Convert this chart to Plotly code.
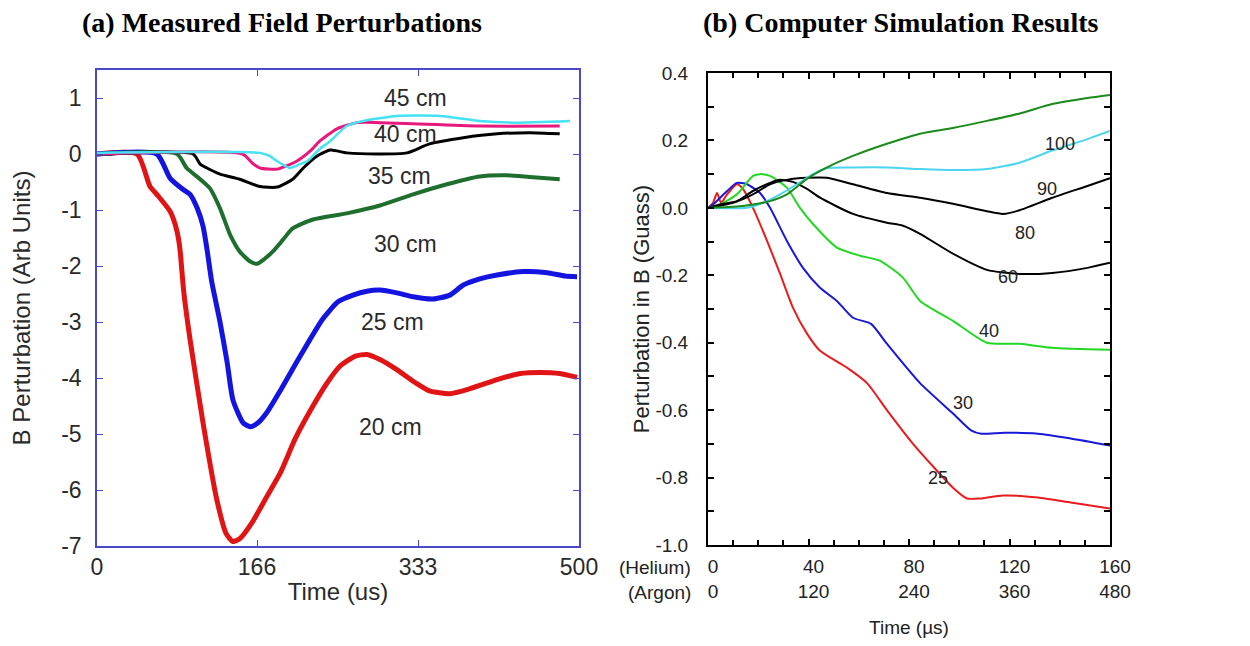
import plotly.graph_objects as go

# ---------------- Panel (a): measured field perturbations ----------------
a_labels = ["20 cm", "25 cm", "30 cm", "35 cm", "40 cm", "45 cm"]

t_20 = [0, 41.5, 55, 62, 76, 83, 86, 90, 96.5, 110, 124.5, 134, 141, 148, 162, 175, 190, 206, 224, 239,
        252, 268, 280, 293.5, 311, 330, 345, 366, 387, 415, 439, 459.5, 480, 498]
b_20 = [0, 0, -0.58, -0.72, -1.03, -1.38, -1.69, -2.46, -3.31, -4.8, -6.19, -6.78, -6.92, -6.87, -6.55,
        -6.15, -5.7, -5.07, -4.5, -4.08, -3.79, -3.61, -3.58, -3.67, -3.85, -4.08, -4.23, -4.28, -4.19,
        -4.03, -3.92, -3.9, -3.92, -3.99]

t_25 = [0, 62, 75.7, 89, 96.5, 104, 110, 114, 119, 127.6, 135, 141, 151.5, 159, 167, 176, 192, 207, 221,
        234, 250, 265.5, 280, 293.5, 311, 328, 348.5, 366, 380, 397, 415, 442, 467, 485.5, 498]
b_25 = [0, 0, -0.43, -0.63, -0.72, -0.97, -1.29, -1.69, -2.28, -3.0, -3.72, -4.39, -4.8, -4.87, -4.8,
        -4.62, -4.17, -3.72, -3.31, -2.95, -2.64, -2.52, -2.45, -2.43, -2.48, -2.55, -2.59, -2.52, -2.34,
        -2.23, -2.16, -2.1, -2.12, -2.18, -2.19]

t_30 = [0, 83, 93, 107, 117, 127.6, 138, 148, 159, 166, 174, 182.5, 193, 203, 224, 259, 293.5, 328, 363,
        397, 425, 449, 480]
b_30 = [0, 0, -0.25, -0.45, -0.61, -0.97, -1.44, -1.74, -1.92, -1.96, -1.87, -1.74, -1.53, -1.33, -1.17,
        -1.06, -0.92, -0.72, -0.54, -0.4, -0.38, -0.41, -0.45]

t_35 = [11.4, 99.6, 107, 114, 127.6, 148, 169, 187, 203, 214, 228, 242, 259, 293.5, 321.5, 345, 380, 415,
        449, 480]
b_35 = [0, 0, -0.18, -0.25, -0.36, -0.45, -0.58, -0.59, -0.45, -0.25, -0.04, 0.07, 0.02, 0.0, 0.02, 0.18,
        0.29, 0.36, 0.38, 0.36]

t_40 = [0, 151, 161, 169, 187, 207, 221, 231, 249, 270, 293.5, 328, 397, 480]
b_40 = [0, 0, -0.16, -0.25, -0.27, -0.13, 0.05, 0.23, 0.45, 0.56, 0.56, 0.54, 0.5, 0.5]

t_45 = [0, 169, 179.5, 187, 200, 210.6, 218, 231, 242, 259, 276, 311, 356, 397, 431.5, 490.6]
b_45 = [0.02, 0.02, -0.04, -0.13, -0.25, -0.18, -0.13, 0.09, 0.23, 0.5, 0.59, 0.68, 0.68, 0.59, 0.56, 0.59]

a_label_x = [304, 307, 319.5, 314, 319.5, 330]
a_label_y = [-4.87, -3.0, -1.6, -0.4, 0.36, 1.0]

a_xticks = [0, 166, 333, 500]
a_yticks = [1, 0, -1, -2, -3, -4, -5, -6, -7]
a_ytext = ["1", "0", "-1", "-2", "-3", "-4", "-5", "-6", "-7"]

# ---------------- Panel (b): computer simulation ----------------
b_labels = ["25", "30", "40", "60", "80", "90", "100"]

h_100 = [0, 10, 17.9, 24.7, 31.4, 39.4, 47.4, 57.7, 71.2, 84.4, 97.5, 111, 124, 137, 151, 160]
g_100 = [0.0, 0.003, 0.01, 0.02, 0.04, 0.086, 0.12, 0.154, 0.19, 0.22, 0.237, 0.258, 0.28, 0.308, 0.326, 0.335]

h_90 = [0, 15.5, 21.9, 28.7, 35.4, 41.8, 47.4, 57.7, 71.2, 84.4, 97.5, 111, 124, 137, 151, 160]
g_90 = [0.0, 0.0, 0.015, 0.04, 0.07, 0.1, 0.118, 0.12, 0.12, 0.115, 0.112, 0.115, 0.134, 0.17, 0.204, 0.228]

h_80u = [0, 10, 17.9, 24.7, 31.4, 39.4, 47.4, 57.7, 71.2, 84.4, 97.5, 111, 117.4, 124, 137, 151, 160]
g_80u = [0.0, 0.015, 0.04, 0.07, 0.083, 0.089, 0.089, 0.07, 0.044, 0.03, 0.012, -0.01, -0.018, -0.007,
         0.03, 0.065, 0.088]

h_80 = [0, 4.8, 11.5, 17.9, 24.7, 28.7, 33.8, 39.4, 44.6, 57.7, 71.2, 77.6, 84.4, 97.5, 111, 124, 137, 151, 160]
g_80 = [0.0, 0.01, 0.02, 0.05, 0.074, 0.083, 0.077, 0.056, 0.03, -0.018, -0.044, -0.053, -0.077, -0.136,
        -0.184, -0.196, -0.193, -0.178, -0.163]

h_60 = [0, 4.8, 11.5, 17.9, 20.7, 24.7, 31.4, 36.6, 41.8, 51.3, 60.5, 68.5, 77.6, 84.4, 97.5, 111, 124, 137, 160]
g_60 = [0.0, 0.01, 0.04, 0.095, 0.1, 0.095, 0.06, 0.0, -0.048, -0.118, -0.142, -0.157, -0.207, -0.276,
        -0.335, -0.4, -0.403, -0.415, -0.421]

h_40 = [0, 2, 7.6, 11.5, 15.5, 20.7, 24.7, 31.4, 37.8, 44.6, 51.3, 57.7, 64.9, 71.2, 84.4, 97.5, 104.7, 108.7,
        117.9, 131.3, 144.4, 160]
g_40 = [0.0, 0.01, 0.05, 0.074, 0.07, 0.044, 0.0, -0.098, -0.178, -0.237, -0.276, -0.326, -0.344, -0.403,
        -0.52, -0.61, -0.66, -0.67, -0.667, -0.67, -0.684, -0.705]

h_25 = [0, 2, 3.6, 5.2, 7.6, 11.5, 13.9, 17.9, 23.5, 28.7, 33.8, 39.4, 44.6, 55.3, 63.3, 71.2, 81.6, 97.5,
        103.1, 108.3, 117.4, 131.3, 144.4, 160]
g_25 = [0.0, 0.015, 0.044, 0.015, 0.04, 0.07, 0.056, 0.0, -0.098, -0.196, -0.296, -0.373, -0.424, -0.474,
        -0.52, -0.6, -0.7, -0.83, -0.862, -0.862, -0.853, -0.859, -0.874, -0.892]

b_label_x = [91.5, 101.5, 112, 119.5, 126, 135, 140]
b_label_y = [-0.8, -0.58, -0.364, -0.204, -0.074, 0.056, 0.19]

b_xticks = [0, 40, 80, 120, 160]
b_xtext_helium = ["0", "40", "80", "120", "160"]
b_xtext_argon = ["0", "120", "240", "360", "480"]
b_yticks = [0.4, 0.2, 0.0, -0.2, -0.4, -0.6, -0.8, -1.0]
b_ytext = ["0.4", "0.2", "0.0", "-0.2", "-0.4", "-0.6", "-0.8", "-1.0"]

# ---------------- page geometry (browser body has an 8px margin) ----------------
OFF = 8
W, H = 1250 - 2 * OFF, 646 - 2 * OFF


def px(x):
    return (x - OFF) / W


def py(y):
    return 1 - (y - OFF) / H


# ---------------- build figure ----------------
fig = go.Figure()

a_series = [
    (t_20, b_20, "#e01414", 5),
    (t_25, b_25, "#1414e0", 5),
    (t_30, b_30, "#1e6e2e", 4),
    (t_35, b_35, "#000000", 3),
    (t_40, b_40, "#e8187c", 3),
    (t_45, b_45, "#44e2f2", 2.5),
]
for (xs, ys, col, w), name in zip(a_series, a_labels):
    fig.add_trace(go.Scatter(x=xs, y=ys, mode="lines", name=name,
                             line=dict(color=col, width=w, shape="spline", smoothing=0.6),
                             xaxis="x", yaxis="y", showlegend=False, hoverinfo="skip"))

b_series = [
    (h_25, g_25, "#e81c1c", 2),
    (h_40, g_40, "#1818d8", 2),
    (h_60, g_60, "#22d822", 2),
    (h_80, g_80, "#000000", 2),
    (h_80u, g_80u, "#000000", 2),
    (h_90, g_90, "#4cd4f0", 2),
    (h_100, g_100, "#1a8a1a", 2),
]
for xs, ys, col, w in b_series:
    fig.add_trace(go.Scatter(x=xs, y=ys, mode="lines",
                             line=dict(color=col, width=w, shape="spline", smoothing=0.6),
                             xaxis="x2", yaxis="y2", showlegend=False, hoverinfo="skip"))

SANS = "Liberation Sans, Arial"
a_font = dict(family=SANS, size=23, color="#2a2a2a")
for txt, x, y in zip(a_labels, a_label_x, a_label_y):
    fig.add_annotation(x=x, y=y, xref="x", yref="y", text=txt, showarrow=False, font=a_font)
for txt, x, y in zip(b_labels, b_label_x, b_label_y):
    fig.add_annotation(x=x, y=y, xref="x2", yref="y2", text=txt, showarrow=False,
                       font=dict(family=SANS, size=18, color="#222222"))

title_font = dict(family="Liberation Serif, Times New Roman", size=28, color="#000000")
fig.add_annotation(x=px(282), y=py(22), xref="paper", yref="paper", xanchor="center",
                   yanchor="middle", text="<b>(a) Measured Field Perturbations</b>", showarrow=False,
                   font=title_font)
fig.add_annotation(x=px(901), y=py(22), xref="paper", yref="paper", xanchor="center",
                   yanchor="middle", text="<b>(b) Computer Simulation Results</b>", showarrow=False,
                   font=title_font)

b_font = dict(family=SANS, size=19, color="#222222")
fig.add_annotation(x=px(693), y=py(567), xref="paper", yref="paper", xanchor="right",
                   yanchor="middle", text="(Helium)", showarrow=False, font=b_font)
fig.add_annotation(x=px(693), y=py(592), xref="paper", yref="paper", xanchor="right",
                   yanchor="middle", text="(Argon)", showarrow=False, font=b_font)

blue_line = "#4a4ac8"
a_tick_font = dict(family=SANS, size=23, color="#2a2a2a")
a_title_font = dict(family=SANS, size=24, color="#2a2a2a")
b_ticktext = [f"{h}<br>{a}" for h, a in zip(b_xtext_helium, b_xtext_argon)]

fig.update_layout(
    width=W, height=H,
    margin=dict(l=0, r=0, t=0, b=0, autoexpand=False),
    paper_bgcolor="white", plot_bgcolor="white",
    xaxis=dict(domain=[px(97), px(579)], range=[0, 500], tickvals=a_xticks, automargin=False,
               showgrid=False, zeroline=False, showline=True, linecolor=blue_line, linewidth=1.5,
               mirror="ticks", ticks="inside", ticklen=6, tickcolor=blue_line, tickfont=a_tick_font,
               title=dict(text="Time (us)", font=a_title_font, standoff=4), anchor="y"),
    yaxis=dict(domain=[py(546), py(70)], range=[-7, 1.5], tickvals=a_yticks, ticktext=a_ytext,
               automargin=False, ticklabelstandoff=9,
               showgrid=False, zeroline=False, showline=True, linecolor=blue_line, linewidth=1.5,
               mirror="ticks", ticks="inside", ticklen=6, tickcolor=blue_line, tickfont=a_tick_font,
               title=dict(text="B Perturbation (Arb Units)", font=a_title_font, standoff=24), anchor="x"),
    xaxis2=dict(domain=[px(708), px(1110)], range=[0, 160], tickvals=b_xticks, ticktext=b_ticktext,
                automargin=False, ticklabelshift=5, ticklabelstandoff=3,
                showgrid=False, zeroline=False, showline=True, linecolor="#000000", linewidth=2,
                mirror="ticks", ticks="inside", ticklen=6, tickcolor="#000000", tickwidth=1.5,
                minor=dict(dtick=10, ticks="inside", ticklen=5, tickcolor="#000000", showgrid=False),
                tickfont=b_font,
                title=dict(text="Time (µs)", font=b_font, standoff=20),
                anchor="y2"),
    yaxis2=dict(domain=[py(545), py(73)], range=[-1.0, 0.4], tickvals=b_yticks, ticktext=b_ytext,
                automargin=False, ticklabelstandoff=14,
                showgrid=False, zeroline=False, showline=True, linecolor="#000000", linewidth=2,
                mirror="ticks", ticks="inside", ticklen=6, tickcolor="#000000", tickwidth=1.5,
                minor=dict(dtick=0.1, ticks="inside", ticklen=6, tickcolor="#000000", showgrid=False),
                tickfont=b_font,
                title=dict(text="Perturbation in B (Guass)", font=dict(family=SANS, size=22, color="#222222"),
                           standoff=0),
                anchor="x2"),
)

fig.write_html("out.html")
